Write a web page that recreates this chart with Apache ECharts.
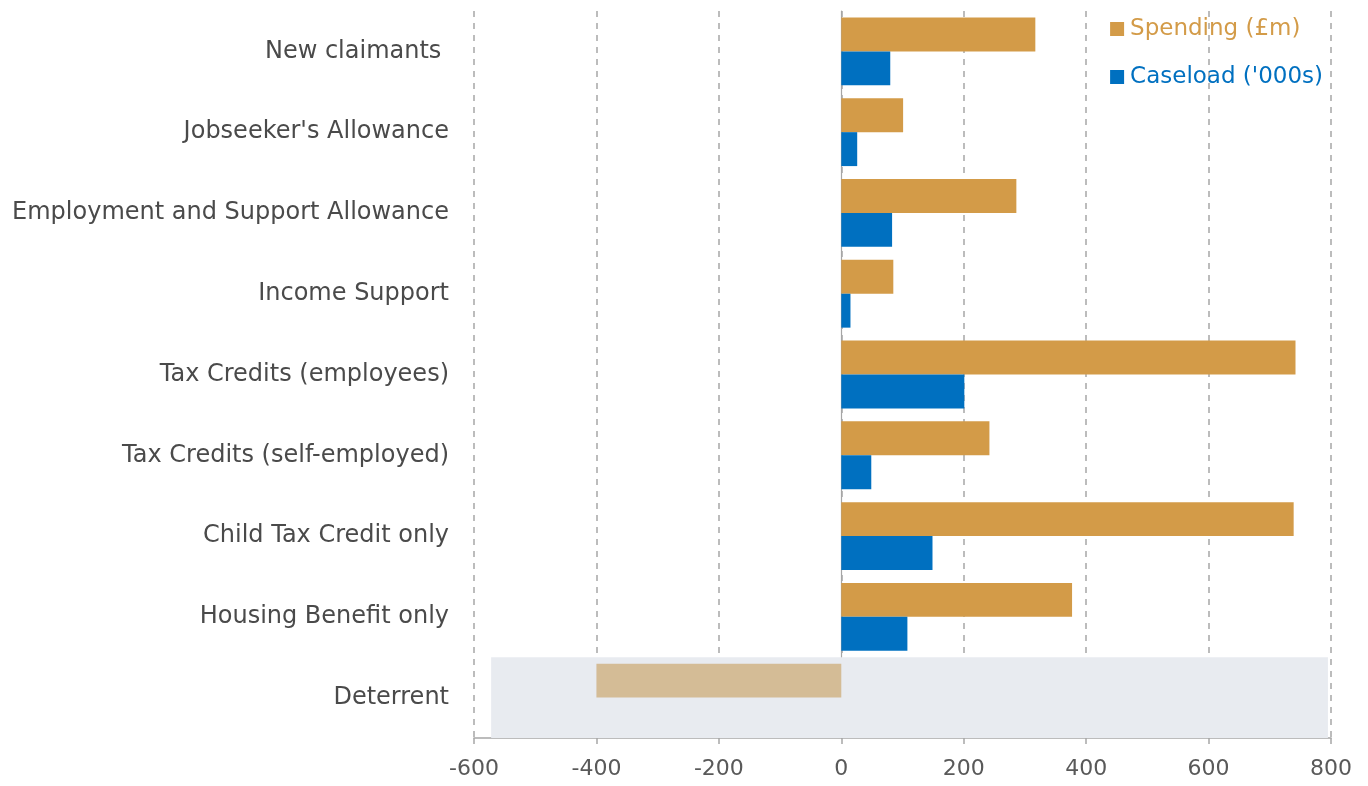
<!DOCTYPE html>
<html>
<head>
<meta charset="utf-8">
<script src="https://cdn.jsdelivr.net/npm/echarts@6/dist/echarts.min.js"></script>
<style>html,body{margin:0;padding:0;background:#fff}#c{width:1368px;height:786px}</style>
</head>
<body>
<div id="c"></div>
<script>
var categories = ["New claimants ", "Jobseeker's Allowance", "Employment and Support Allowance", "Income Support", "Tax Credits (employees)", "Tax Credits (self-employed)", "Child Tax Credit only", "Housing Benefit only", "Deterrent"];
var spending = [317, 101, 286, 85, 742, 242, 739, 377, -400];
var caseload = [80, 26, 83, 15, 201, 49, 149, 108, null];
var xTicks = [-600, -400, -200, 0, 200, 400, 600, 800];
var deterrentBand = [-572, 795];

var FONT = 'DejaVu Sans';
var spendColor = '#d39b48';
var caseColor = '#0070c0';
var deterrentColor = '#d4bc96';

var spendData = spending.map(function (v, i) {
  if (categories[i] === 'Deterrent') return { value: v, itemStyle: { color: deterrentColor } };
  return v;
});

var chart = echarts.init(document.getElementById('c'));
chart.setOption({
  animation: false,
  backgroundColor: '#fff',
  textStyle: { fontFamily: FONT },
  legend: {
    orient: 'vertical',
    right: 40,
    top: 12,
    itemWidth: 14,
    itemHeight: 14,
    itemGap: 24,
    icon: 'rect',
    textStyle: { fontSize: 23, lineHeight: 24, fontFamily: FONT, padding: [0, 0, 0, 1] },
    data: [
      { name: 'Spending (£m)', textStyle: { color: spendColor } },
      { name: "Caseload ('000s)", textStyle: { color: caseColor } }
    ]
  },
  grid: { left: 474, right: 37, top: 11, bottom: 48 },
  xAxis: {
    type: 'value',
    min: -600, max: 800, interval: 200,
    axisLine: { show: true, onZero: false, lineStyle: { color: '#a6a6a6', width: 1.5 } },
    axisTick: { show: true, length: 6, lineStyle: { color: '#a6a6a6', width: 1.5 } },
    axisLabel: { color: '#595959', fontSize: 22, lineHeight: 22, margin: 20, fontFamily: FONT,
      formatter: function (v) { return xTicks.indexOf(v) >= 0 ? String(v) : ''; } },
    splitLine: { show: true, lineStyle: { color: '#a6a6a6', type: [6, 6], width: 1.5 } }
  },
  yAxis: [{
    type: 'category',
    inverse: true,
    data: categories,
    axisLine: { show: true, onZero: true, lineStyle: { color: '#a6a6a6', width: 1.2 } },
    axisTick: { show: false },
    axisLabel: { color: '#4a4a4a', fontSize: 24, margin: 25, fontFamily: FONT }
  }, {
    type: 'value',
    inverse: true,
    min: 0, max: 9,
    show: false
  }],
  series: [
    {
      name: 'band',
      type: 'line',
      xAxisIndex: 0,
      yAxisIndex: 1,
      data: [],
      silent: true,
      z: 0,
      markArea: {
        silent: true,
        itemStyle: { color: '#e8ebf0' },
        data: [[{ xAxis: deterrentBand[0], yAxis: 8 }, { xAxis: deterrentBand[1], yAxis: 9 }]]
      }
    },
    {
      name: 'Spending (£m)',
      type: 'bar',
      data: spendData,
      itemStyle: { color: spendColor },
      barGap: '0%',
      barCategoryGap: '16%',
      z: 3
    },
    {
      name: "Caseload ('000s)",
      type: 'bar',
      data: caseload,
      itemStyle: { color: caseColor },
      barGap: '0%',
      barCategoryGap: '16%',
      z: 3
    }
  ]
});
</script>
</body>
</html>
